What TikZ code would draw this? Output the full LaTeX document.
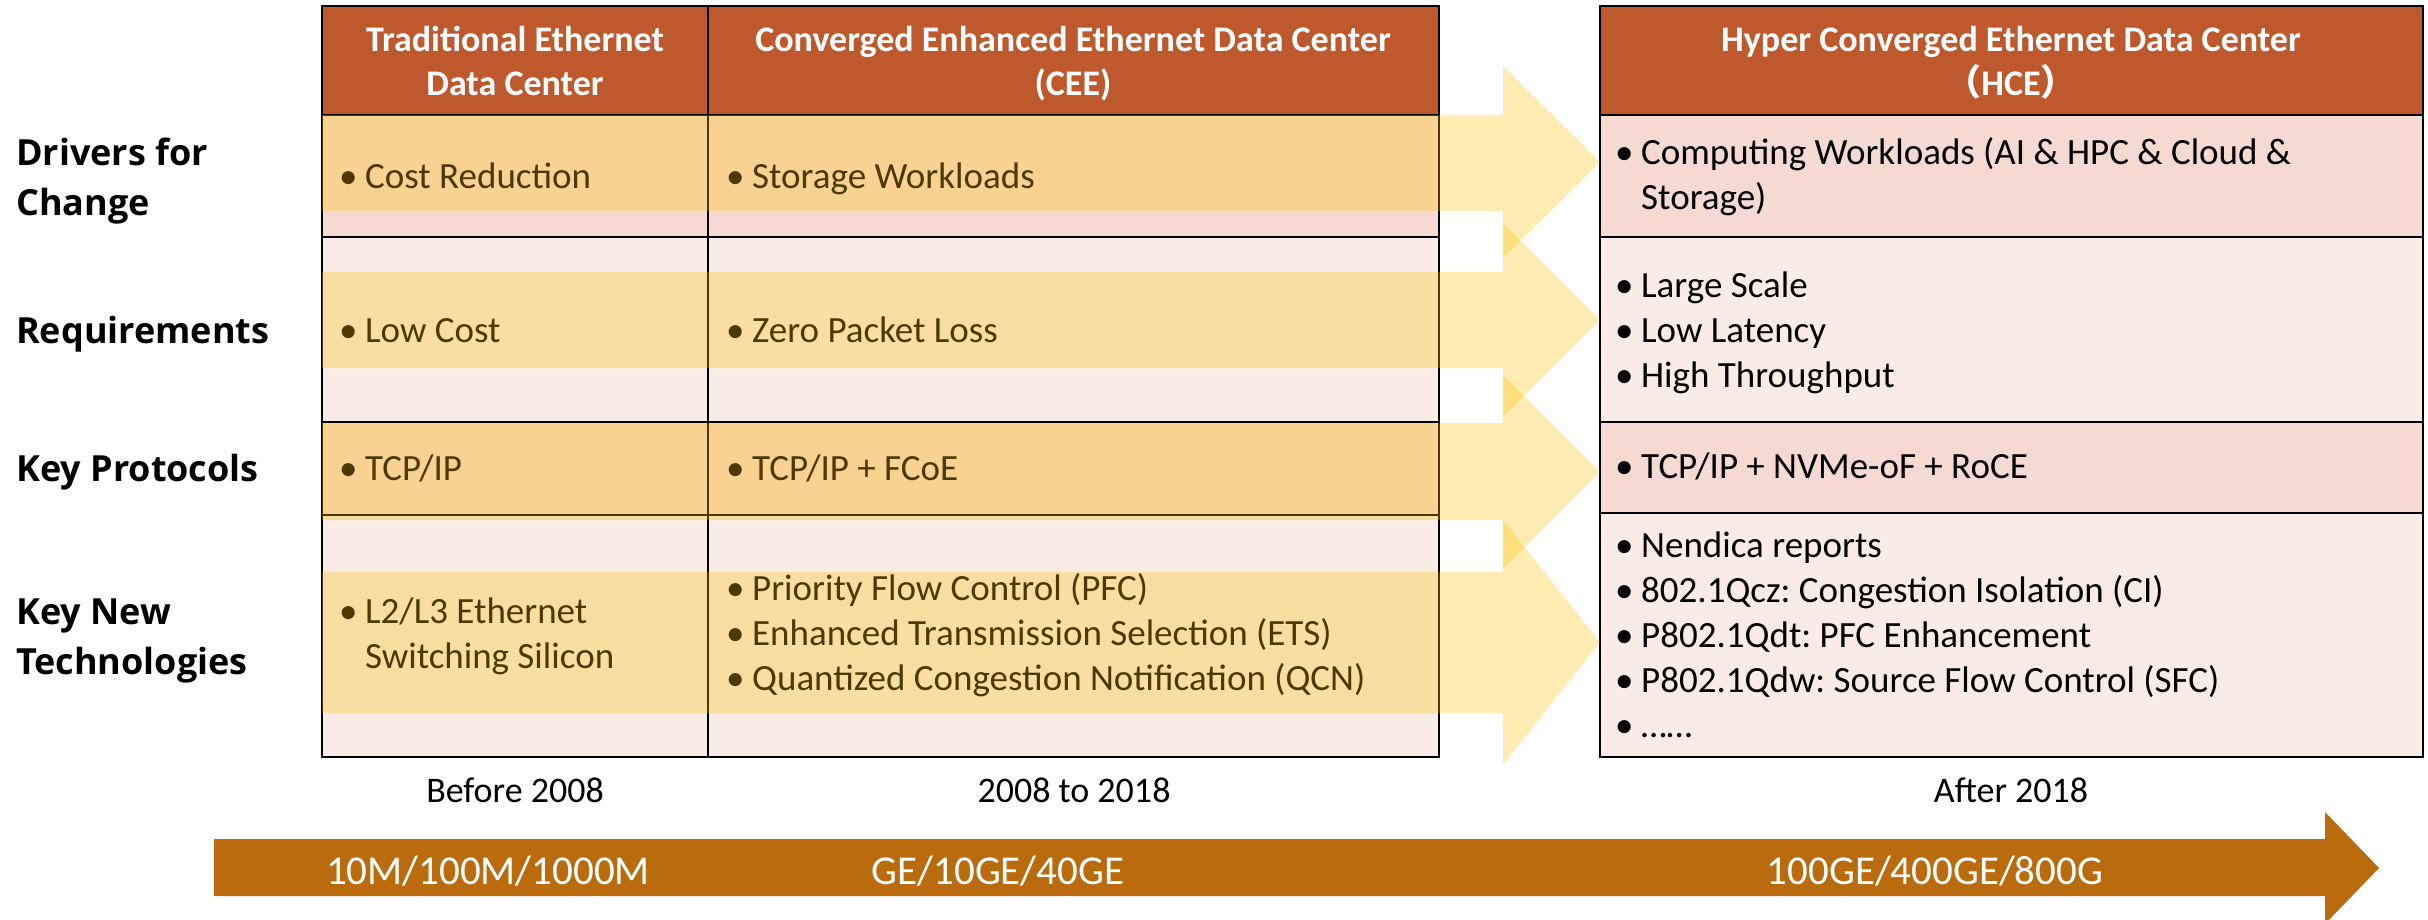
\documentclass[tikz,border=0pt]{standalone}
\usepackage{fontspec}
\setmainfont{Carlito}
\newfontfamily\lblfont{Open Sans}
\newfontfamily\cjk{Noto Sans CJK SC}
\frenchspacing
\definecolor{hdr}{HTML}{BE582D}
\definecolor{rowpink}{HTML}{F4DAD0}
\definecolor{rowlight}{HTML}{F9ECE7}
\definecolor{gold}{HTML}{FFC000}
\definecolor{timeline}{HTML}{BA6B0E}
\newcommand{\bu}{\makebox[26pt][l]{•}}
\newcommand{\bi}{\hspace*{26pt}}
\tikzset{
  body/.style={anchor=base west, inner sep=0pt, align=left, font=\fontsize{37}{45}\selectfont, text=black},
  hdrtext/.style={anchor=base, inner sep=0pt, align=center, font=\bfseries\fontsize{36}{44}\selectfont, text=white},
  lbl/.style={anchor=base west, inner sep=0pt, align=left, font=\lblfont\bfseries\fontsize{36}{50}\selectfont, text=black},
  era/.style={anchor=base, inner sep=0pt, font=\fontsize{36}{44}\selectfont, text=black},
  speed/.style={anchor=base, inner sep=0pt, font=\fontsize{41}{48}\selectfont, text=white},
  grid/.style={draw=black, line width=2.5pt},
  bigarrow/.style={fill=gold, fill opacity=0.3},
}
\begin{document}
\begin{tikzpicture}[x=1pt, y=-1pt]
\useasboundingbox (0,0) rectangle (2428,920);
\clip (0,0) rectangle (2428,920);
% ---- left table fills
\fill[hdr] (322,6) rectangle (1439,115);
\fill[rowpink] (322,115) rectangle (1439,237);
\fill[rowlight] (322,237) rectangle (1439,422);
\fill[rowpink] (322,422) rectangle (1439,515);
\fill[rowlight] (322,515) rectangle (1439,757);
% ---- right table fills
\fill[hdr] (1600,6) rectangle (2423,115);
\fill[rowpink] (1600,115) rectangle (2423,237);
\fill[rowlight] (1600,237) rectangle (2423,422);
\fill[rowpink] (1600,422) rectangle (2423,513);
\fill[rowlight] (1600,513) rectangle (2423,757);
% ---- headers (base = last line)
\node[hdrtext] (h1) at (515,96) {Traditional Ethernet\\Data Center};
\node[hdrtext] (h2) at (1073,96) {Converged Enhanced Ethernet Data Center\\(CEE)};
\node[hdrtext] (h3) at (2011,96) {Hyper Converged Ethernet Data Center\\{\cjk （}HCE{\cjk ）}};
% ---- row labels
\node[lbl] (l1) at (16,215) {Drivers for\\Change};
\node[lbl] (l2) at (16,343) {Requirements};
\node[lbl] (l3) at (16,481) {Key Protocols};
\node[lbl] (l4) at (16,674) {Key New\\Technologies};
% ---- column 1
\node[body] (a1) at (339,189) {\bu Cost Reduction};
\node[body] (a2) at (339,342) {\bu Low Cost};
\node[body] (a3) at (339,480) {\bu TCP/IP};
\node[body] (a4) at (339,668) {\bu L2/L3 Ethernet\\\bi Switching Silicon};
% ---- column 2
\node[body] (b1) at (726,189) {\bu Storage Workloads};
\node[body] (b2) at (726,342) {\bu Zero Packet Loss};
\node[body] (b3) at (726,480) {\bu TCP/IP + FCoE};
\node[body] (b4) at (726,690) {\bu Priority Flow Control (PFC)\\\bu Enhanced Transmission Selection (ETS)\\\bu Quantized Congestion Notification (QCN)};
% ---- HCE column
\node[body] (c1) at (1615,210) {\bu Computing Workloads (AI \& HPC \& Cloud \&\\\bi Storage)};
\node[body] (c2) at (1615,387) {\bu Large Scale\\\bu Low Latency\\\bu High Throughput};
\node[body] (c3) at (1615,478) {\bu TCP/IP + NVMe-oF + RoCE};
\node[body] (c4) at (1615,737) {\bu Nendica reports\\\bu 802.1Qcz: Congestion Isolation (CI)\\\bu P802.1Qdt: PFC Enhancement\\\bu P802.1Qdw: Source Flow Control (SFC)\\\bu ……};
% ---- grid lines
\draw[grid] (322,6) rectangle (1439,757);
\draw[grid] (708,6) -- (708,757);
\foreach \yy in {115,237,422,515} \draw[grid] (322,\yy) -- (1439,\yy);
\draw[grid] (1600,6) rectangle (2423,757);
\foreach \yy in {115,237,422,513} \draw[grid] (1600,\yy) -- (2423,\yy);
% ---- translucent arrows
\fill[bigarrow] (322,115) -- (1503,115) -- (1503,66) -- (1600,162) -- (1503,258) -- (1503,211) -- (322,211) -- cycle;
\fill[bigarrow] (322,272) -- (1503,272) -- (1503,223) -- (1600,320) -- (1503,417) -- (1503,368) -- (322,368) -- cycle;
\fill[bigarrow] (322,423) -- (1503,423) -- (1503,375) -- (1600,472) -- (1503,569) -- (1503,520) -- (322,520) -- cycle;
\fill[bigarrow] (322,572) -- (1503,572) -- (1503,520) -- (1600,642) -- (1503,765) -- (1503,713) -- (322,713) -- cycle;
% ---- eras
\node[era] (e1) at (515,802) {Before 2008};
\node[era] (e2) at (1074,802) {2008 to 2018};
\node[era] (e3) at (2011,802) {After 2018};
% ---- timeline arrow
\fill[timeline] (214,839) -- (2325,839) -- (2325,812) -- (2379,868) -- (2325,924) -- (2325,896) -- (214,896) -- cycle;
\node[speed] (s1) at (488,884) {10M/100M/1000M};
\node[speed] (s2) at (998,884) {GE/10GE/40GE};
\node[speed] (s3) at (1935,884) {100GE/400GE/800G};
\end{tikzpicture}
\end{document}
